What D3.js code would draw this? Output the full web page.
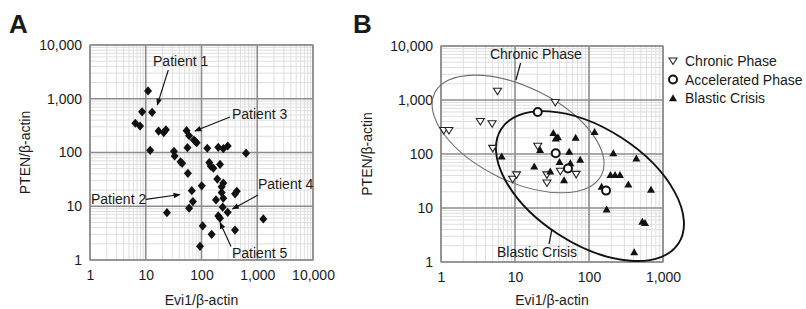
<!DOCTYPE html>
<html>
<head>
<meta charset="utf-8">
<script src="https://cdn.jsdelivr.net/npm/d3@7"></script>
<style>
  body { margin: 0; background: #fff; }
  svg text { font-family: "Liberation Sans", Arial, sans-serif; fill: #1a1a1a; }
</style>
</head>
<body>
<div id="chart"></div>
<script>
// ---- data ----
var ticksA = [1, 10, 100, 1000, 10000];
var ticksBx = [1, 10, 100, 1000];
var ticksBy = [1, 10, 100, 1000, 10000];

// panel A: Evi1 vs PTEN (one series)
var evi1A = [11, 8.6, 13, 6.5, 7.9, 17, 21, 23, 12,
  54, 60, 73, 78, 82, 56, 127, 200, 246, 295, 630,
  32, 33, 42, 45, 57, 138, 146, 163, 215,
  101, 192, 246, 230, 67, 70, 60, 24, 230, 182, 246, 240, 295, 430, 400,
  200, 215, 1285, 105, 399, 152, 94];
var ptenA = [1400, 570, 560, 350, 310, 250, 235, 265, 110,
  255, 205, 171, 160, 152, 123, 120, 125, 118, 132, 97,
  105, 86, 67, 63, 41, 65, 56, 51, 60,
  24, 32, 27, 23, 19.5, 12.2, 9.2, 7.6, 18, 13.1, 14.1, 9.6, 7.7, 19, 17,
  6.6, 6.0, 5.8, 4.3, 3.6, 3.0, 1.8];

// panel B: three phases
var chronicEvi1 = [5.8, 35, 3.4, 4.9, 1.09, 1.28, 5.0, 20.3, 9.3, 10.5, 27, 27, 41, 67];
var chronicPten = [1450, 900, 400, 364, 272, 272, 127, 139, 34, 41, 41, 29, 48, 42];

var accelEvi1 = [20.3, 35.5, 52, 170];
var accelPten = [600, 103, 54, 21];

var blastEvi1 = [33, 35.5, 38, 66, 21.8, 54, 6.6, 40, 56, 76, 18.2, 30, 46,
  119, 213, 436, 195, 225, 262, 340, 688, 173, 525, 571, 408, 148];
var blastPten = [248, 195, 205, 202, 119, 111, 91, 72, 68, 79, 59, 48, 33,
  259, 104, 83, 41, 41, 41, 27.5, 22, 9.5, 5.6, 5.3, 1.53, 25];

// annotations (data units)
var patientNames = ["Patient 1", "Patient 3", "Patient 2", "Patient 4", "Patient 5"];
var patientLabelX = [13.5, 352, 1.04, 1032, 352];
var patientLabelY = [4070, 420, 11.0, 20.9, 1.09];
var arrowFromX = [25.4, 325, 10.1, 1032, 338];
var arrowFromY = [3428, 457, 13.4, 16.2, 1.78];
var arrowToX = [16.1, 76, 41, 360, 215];
var arrowToY = [765, 251, 16.5, 8.9, 4.99];

var ellipseNames = ["Chronic Phase", "Blastic Crisis"];
var ellipseCx = [11, 103];
var ellipseCy = [235, 25.5];
var ellipseLabelX = [4.59, 5.71];
var ellipseLabelY = [5745, 1.24];
var leaderFromX = [11.9, 28.8];
var leaderFromY = [4843, 2.15];
var leaderToX = [10.3, 31.6];
var leaderToY = [2346, 4.08];

var legendNames = ["Chronic Phase", "Accelerated Phase", "Blastic Crisis"];

// ---- drawing ----
var width = 806, height = 309;
var svg = d3.select("#chart").append("svg")
  .attr("width", width).attr("height", height);

svg.append("defs").append("marker")
  .attr("id", "arrow")
  .attr("viewBox", "0 0 10 10")
  .attr("refX", 9).attr("refY", 5)
  .attr("markerWidth", 8).attr("markerHeight", 7)
  .attr("markerUnits", "userSpaceOnUse")
  .attr("orient", "auto")
  .append("path")
  .attr("d", "M0,1L10,5L0,9Z")
  .attr("fill", "#111");

var fmt = d3.format(",");

function minorValues(lo, hi) {
  var out = [];
  for (var p = lo; p < hi; p *= 10) {
    for (var k = 2; k <= 9; k++) out.push(p * k);
  }
  return out;
}

function panel(x, y, xTicks, yTicks, titleOffset) {
  var g = svg.append("g");
  var x0 = x.range()[0], x1 = x.range()[1];
  var y0 = y.range()[0], y1 = y.range()[1];

  // minor gridlines
  g.append("g").selectAll("line.vx")
    .data(minorValues(x.domain()[0], x.domain()[1])).enter()
    .append("line")
    .attr("x1", function (d) { return x(d); }).attr("x2", function (d) { return x(d); })
    .attr("y1", y0).attr("y2", y1)
    .attr("stroke", "#dedede").attr("stroke-width", 1);
  g.append("g").selectAll("line.hy")
    .data(minorValues(y.domain()[0], y.domain()[1])).enter()
    .append("line")
    .attr("y1", function (d) { return y(d); }).attr("y2", function (d) { return y(d); })
    .attr("x1", x0).attr("x2", x1)
    .attr("stroke", "#dedede").attr("stroke-width", 1);

  // major gridlines
  g.append("g").selectAll("line")
    .data(xTicks).enter().append("line")
    .attr("x1", function (d) { return x(d); }).attr("x2", function (d) { return x(d); })
    .attr("y1", y0).attr("y2", y1)
    .attr("stroke", "#8c8c8c").attr("stroke-width", 1.6);
  g.append("g").selectAll("line")
    .data(yTicks).enter().append("line")
    .attr("y1", function (d) { return y(d); }).attr("y2", function (d) { return y(d); })
    .attr("x1", x0).attr("x2", x1)
    .attr("stroke", "#8c8c8c").attr("stroke-width", 1.6);

  g.append("rect")
    .attr("x", x0).attr("y", y1)
    .attr("width", x1 - x0).attr("height", y0 - y1)
    .attr("fill", "none").attr("stroke", "#8c8c8c").attr("stroke-width", 1.3);

  // tick labels
  var ax = g.append("g")
    .attr("transform", "translate(0," + y0 + ")")
    .call(d3.axisBottom(x).tickValues(xTicks).tickFormat(fmt).tickSize(0).tickPadding(10));
  var ay = g.append("g")
    .attr("transform", "translate(" + x0 + ",0)")
    .call(d3.axisLeft(y).tickValues(yTicks).tickFormat(fmt).tickSize(0).tickPadding(8));
  [ax, ay].forEach(function (a) {
    a.select(".domain").remove();
    a.selectAll("text").style("font-size", "14px").attr("fill", "#1a1a1a");
  });

  // axis titles
  g.append("text")
    .attr("x", (x0 + x1) / 2).attr("y", 305)
    .attr("text-anchor", "middle").style("font-size", "14px")
    .text("Evi1/\u03b2-actin");
  g.append("text")
    .attr("transform", "translate(" + (x0 - titleOffset) + "," + ((y0 + y1) / 2) + ") rotate(-90)")
    .attr("text-anchor", "middle").style("font-size", "14px")
    .text("PTEN/\u03b2-actin");
  return g;
}

// ===== Panel A =====
var xA = d3.scaleLog().domain([1, 10000]).range([90, 313]);
var yA = d3.scaleLog().domain([1, 10000]).range([260, 45]);
var gA = panel(xA, yA, ticksA, ticksA, 60);

svg.append("text").attr("x", 9).attr("y", 33)
  .style("font-size", "26px").style("font-weight", "bold").text("A");

var diamond = "M0,-4.6L4,0L0,4.6L-4,0Z";
gA.append("g").selectAll("path")
  .data(evi1A.map(function (v, i) { return [v, ptenA[i]]; }))
  .enter().append("path")
  .attr("d", diamond)
  .attr("transform", function (d) { return "translate(" + xA(d[0]) + "," + yA(d[1]) + ")"; })
  .attr("fill", "#111");

patientNames.forEach(function (name, i) {
  gA.append("line")
    .attr("x1", xA(arrowFromX[i])).attr("y1", yA(arrowFromY[i]))
    .attr("x2", xA(arrowToX[i])).attr("y2", yA(arrowToY[i]))
    .attr("stroke", "#111").attr("stroke-width", 1.1)
    .attr("marker-end", "url(#arrow)");
  gA.append("text")
    .attr("x", xA(patientLabelX[i])).attr("y", yA(patientLabelY[i]))
    .style("font-size", "14px")
    .text(name);
});

// ===== Panel B =====
var xB = d3.scaleLog().domain([1, 1000]).range([441, 663]);
var yB = d3.scaleLog().domain([1, 10000]).range([262, 46]);
var gB = panel(xB, yB, ticksBx, ticksBy, 69);

svg.append("text").attr("x", 353).attr("y", 33)
  .style("font-size", "26px").style("font-weight", "bold").text("B");

// ellipses (pixel radii / rotation are drawing style)
var ellipseStyle = [
  { rx: 93, ry: 47, rot: 26.2, stroke: "#6e6e6e", sw: 1.1 },
  { rx: 105.5, ry: 57.7, rot: 32.8, stroke: "#111", sw: 1.9 }
];
ellipseNames.forEach(function (name, i) {
  var cx = xB(ellipseCx[i]), cy = yB(ellipseCy[i]);
  var s = ellipseStyle[i];
  gB.append("ellipse")
    .attr("cx", cx).attr("cy", cy)
    .attr("rx", s.rx).attr("ry", s.ry)
    .attr("transform", "rotate(" + s.rot + "," + cx + "," + cy + ")")
    .attr("fill", "none").attr("stroke", s.stroke).attr("stroke-width", s.sw);
  gB.append("line")
    .attr("x1", xB(leaderFromX[i])).attr("y1", yB(leaderFromY[i]))
    .attr("x2", xB(leaderToX[i])).attr("y2", yB(leaderToY[i]))
    .attr("stroke", "#111").attr("stroke-width", 1.2);
  gB.append("text")
    .attr("x", xB(ellipseLabelX[i])).attr("y", yB(ellipseLabelY[i]))
    .style("font-size", "14px")
    .text(name);
});

var triDown = "M-4,-3L4,-3L0,3.5Z";
var triUp = "M-4,3.2L4,3.2L0,-3.8Z";

function drawDown(g, px, py) {
  g.append("path").attr("d", triDown)
    .attr("transform", "translate(" + px + "," + py + ")")
    .attr("fill", "#fff").attr("stroke", "#222").attr("stroke-width", 1.1);
}
function drawCircle(g, px, py) {
  g.append("circle").attr("cx", px).attr("cy", py).attr("r", 4)
    .attr("fill", "#fff").attr("stroke", "#111").attr("stroke-width", 2);
}
function drawUp(g, px, py) {
  g.append("path").attr("d", triUp)
    .attr("transform", "translate(" + px + "," + py + ")")
    .attr("fill", "#111");
}

var pts = gB.append("g");
chronicEvi1.forEach(function (v, i) { drawDown(pts, xB(v), yB(chronicPten[i])); });
blastEvi1.forEach(function (v, i) { drawUp(pts, xB(v), yB(blastPten[i])); });
accelEvi1.forEach(function (v, i) { drawCircle(pts, xB(v), yB(accelPten[i])); });

// legend
var lg = svg.append("g").attr("transform", "translate(673,61)");
legendNames.forEach(function (name, i) {
  var yy = i * 18.5;
  if (i === 0) drawDown(lg, 0, yy);
  if (i === 1) drawCircle(lg, 0, yy);
  if (i === 2) drawUp(lg, 0, yy);
  lg.append("text").attr("x", 12).attr("y", yy + 5)
    .style("font-size", "14px").text(name);
});
</script>
</body>
</html>
